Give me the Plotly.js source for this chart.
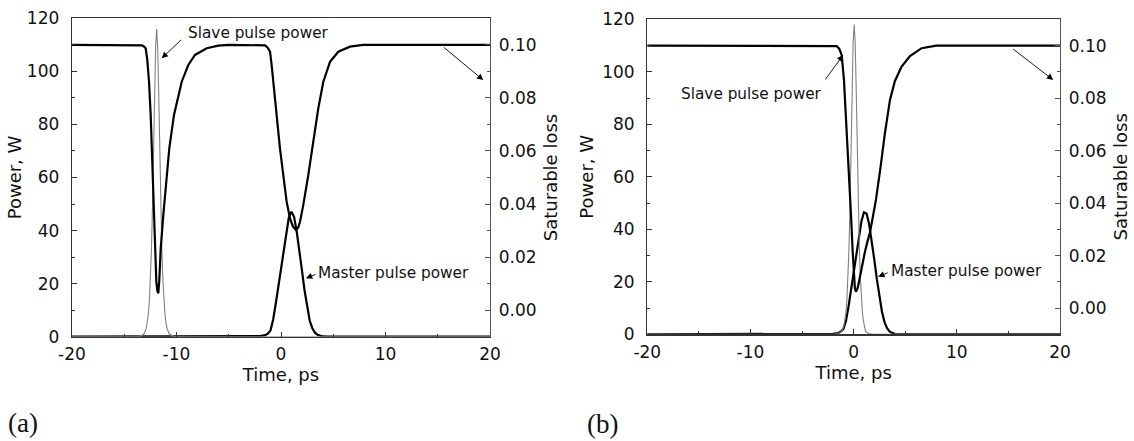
<!DOCTYPE html>
<html>
<head>
<meta charset="utf-8">
<script src="https://cdn.plot.ly/plotly-3.0.1.min.js"></script>
<style>html,body{margin:0;padding:0;background:#fff;}#chart{width:1134px;height:441px;}</style>
</head>
<body>
<div id="chart"></div>
<script>
// ---------- Data ----------
// Panel (a)
const tLossA = [-20, -13.6, -13.33, -13.17, -12.95, -12.8, -12.63, -12.47, -12.37, -12.28, -12.18, -12.09, -11.93, -11.83, -11.74, -11.65, -11.51, -11.26, -11.0, -10.69, -10.24, -9.5, -8.87, -8.23, -7.11, -6.0, -5.0, -1.8, -1.53, -1.3, -1.05, -0.9, -0.74, -0.41, -0.1, 0.22, 0.54, 0.86, 1.15, 1.44, 1.65, 1.82, 2.13, 2.61, 3.09, 3.57, 4.05, 4.69, 5.48, 6.6, 7.85, 20];
const lossA = [0.100, 0.100, 0.0998, 0.0996, 0.0987, 0.0945, 0.0861, 0.0736, 0.061, 0.0484, 0.0359, 0.0233, 0.0107, 0.0072, 0.0064, 0.011, 0.0233, 0.0359, 0.0484, 0.061, 0.0736, 0.0861, 0.0924, 0.0962, 0.0987, 0.0997, 0.100, 0.100, 0.0998, 0.099, 0.0974, 0.0925, 0.0861, 0.0736, 0.061, 0.0509, 0.0409, 0.0346, 0.0315, 0.0302, 0.0312, 0.0333, 0.0396, 0.0509, 0.0635, 0.0761, 0.0861, 0.0936, 0.0974, 0.0993, 0.100, 0.100];
const tSlaveA = [-20, -13.8, -13.4, -13.1, -12.9, -12.8, -12.7, -12.6, -12.5, -12.4, -12.3, -12.2, -12.1, -12.0, -11.9, -11.8, -11.7, -11.6, -11.5, -11.4, -11.3, -11.2, -11.1, -11.0, -10.9, -10.7, -10.4, -10.0, 20];
const slaveA = [0, 0, 0.3, 1.1, 3.1, 5.0, 8.2, 13.2, 21, 32.5, 48.7, 69.2, 91.2, 109, 116, 109, 91.2, 69.2, 48.7, 32.5, 21, 13.2, 8.2, 5.0, 3.1, 1.1, 0.3, 0, 0];
const tMasterA = [-20, -3, -2.5, -2.0, -1.5, -1.25, -1.0, -0.75, -0.5, -0.25, 0, 0.25, 0.5, 0.75, 1.0, 1.25, 1.5, 1.75, 2.0, 2.25, 2.5, 2.75, 3.0, 3.25, 3.5, 3.75, 4.0, 4.5, 20];
const masterA = [0, 0, 0.05, 0.2, 0.6, 1.2, 2.4, 6.5, 12.5, 19.3, 25.8, 32.5, 39, 45, 47.1, 45.2, 39.7, 33, 25.2, 17.5, 10.9, 6, 3.2, 1.5, 0.7, 0.3, 0.1, 0, 0];

// Panel (b)
const tLossB = [-20, -2.0, -1.65, -1.4, -1.16, -0.94, -0.78, -0.6, -0.4, -0.25, -0.1, 0.02, 0.12, 0.22, 0.38, 0.54, 0.8, 1.1, 1.35, 1.58, 1.85, 2.16, 2.6, 3.03, 3.52, 4.0, 4.65, 5.46, 6.59, 8.0, 20];
const lossB = [0.100, 0.100, 0.0998, 0.0988, 0.0964, 0.087, 0.076, 0.062, 0.048, 0.035, 0.022, 0.012, 0.0075, 0.0062, 0.0075, 0.0105, 0.016, 0.0215, 0.0255, 0.0288, 0.0345, 0.0412, 0.0535, 0.0666, 0.0793, 0.0865, 0.092, 0.096, 0.099, 0.100, 0.100];
const tSlaveB = [-20, -1.9, -1.45, -1.15, -0.95, -0.85, -0.75, -0.65, -0.55, -0.45, -0.35, -0.25, -0.15, -0.05, 0.05, 0.15, 0.25, 0.35, 0.45, 0.55, 0.65, 0.75, 0.85, 0.95, 1.15, 1.45, 1.9, 20];
const slaveB = [0, 0, 0.3, 1.1, 3.1, 5.1, 8.3, 13.4, 21.3, 33.1, 49.6, 70.4, 92.8, 110.9, 118, 110.9, 92.8, 70.4, 49.6, 33.1, 21.3, 13.4, 8.3, 5.1, 1.1, 0.3, 0, 0];
const tMasterB = [-20, -3, -2.5, -2.0, -1.5, -1.25, -1.0, -0.75, -0.5, -0.25, 0, 0.25, 0.5, 0.75, 1.0, 1.25, 1.5, 1.75, 2.0, 2.25, 2.5, 2.75, 3.0, 3.25, 3.5, 3.75, 4.0, 4.5, 20];
const masterB = [0, 0, 0.05, 0.2, 0.5, 1.0, 2.0, 5.0, 10.5, 17, 23.5, 30, 36.5, 43, 46.5, 46, 42, 36, 28.5, 21, 14, 8.5, 4.5, 2.2, 1.0, 0.4, 0.1, 0, 0];

// Tick labels and texts
const xTickVals = [-20, -10, 0, 10, 20];
const xTickText = ['-20', '-10', '0', '10', '20'];
const powerTickVals = [0, 20, 40, 60, 80, 100, 120];
const lossTickVals = [0.00, 0.02, 0.04, 0.06, 0.08, 0.10];
const xTitle = 'Time, ps';
const powerTitle = 'Power, W';
const lossTitle = 'Saturable loss';
const slaveLabel = 'Slave pulse power';
const masterLabel = 'Master pulse power';
const panelLabels = ['(a)', '(b)'];

// ---------- Styling ----------
const FONT = 'DejaVu Sans, Verdana, sans-serif';
const INK = '#111';
const AXC = '#333';

function xAxis(domain, anchor) {
  return {
    domain: domain, anchor: anchor, range: [-20, 20],
    tickmode: 'array', tickvals: xTickVals, ticktext: xTickText,
    ticks: 'inside', ticklen: 5, tickwidth: 1, tickcolor: AXC,
    minor: {tickmode: 'array', tickvals: [-15, -5, 5, 15], ticks: 'inside', ticklen: 3, tickwidth: 1, tickcolor: AXC},
    showline: true, linecolor: AXC, linewidth: 1.3, mirror: true,
    showgrid: false, zeroline: false,
    tickfont: {family: FONT, size: 17, color: INK},
    ticklabelstandoff: 2,
    title: {text: xTitle, font: {family: FONT, size: 18, color: INK}, standoff: 5}
  };
}
function powerAxis(domain, anchor, titleStandoff) {
  return {
    domain: domain, anchor: anchor, range: [0, 120], side: 'left',
    tickmode: 'array', tickvals: powerTickVals,
    ticks: 'inside', ticklen: 5, tickwidth: 1, tickcolor: AXC,
    minor: {tickmode: 'array', tickvals: [10, 30, 50, 70, 90, 110], ticks: 'inside', ticklen: 3, tickwidth: 1, tickcolor: AXC},
    showline: true, linecolor: AXC, linewidth: 1.3,
    showgrid: false, zeroline: false,
    tickfont: {family: FONT, size: 17, color: INK},
    ticklabelstandoff: 8,
    title: {text: powerTitle, font: {family: FONT, size: 18, color: INK}, standoff: titleStandoff}
  };
}
function lossAxis(overlay, anchor) {
  return {
    overlaying: overlay, anchor: anchor, side: 'right', range: [-0.01, 0.11],
    tickmode: 'array', tickvals: lossTickVals, tickformat: '.2f',
    ticks: 'inside', ticklen: 5, tickwidth: 1, tickcolor: '#555',
    minor: {tickmode: 'array', tickvals: [0.01, 0.03, 0.05, 0.07, 0.09], ticks: 'inside', ticklen: 3, tickwidth: 1, tickcolor: '#555'},
    showline: true, linecolor: '#555', linewidth: 1.3,
    showgrid: false, zeroline: false,
    tickfont: {family: FONT, size: 17, color: INK},
    ticklabelstandoff: 4,
    title: {text: lossTitle, font: {family: FONT, size: 18, color: INK}, standoff: 8}
  };
}

const thick = {color: '#000', width: 2.2};
const thin = {color: '#808080', width: 1.1};

const traces = [
  {x: tLossA, y: lossA, xaxis: 'x', yaxis: 'y2', mode: 'lines', line: thick, name: 'Saturable loss (a)'},
  {x: tMasterA, y: masterA, xaxis: 'x', yaxis: 'y', mode: 'lines', line: thick, name: masterLabel + ' (a)'},
  {x: tSlaveA, y: slaveA, xaxis: 'x', yaxis: 'y', mode: 'lines', line: thin, name: slaveLabel + ' (a)'},
  {x: tLossB, y: lossB, xaxis: 'x2', yaxis: 'y4', mode: 'lines', line: thick, name: 'Saturable loss (b)'},
  {x: tMasterB, y: masterB, xaxis: 'x2', yaxis: 'y3', mode: 'lines', line: thick, name: masterLabel + ' (b)'},
  {x: tSlaveB, y: slaveB, xaxis: 'x2', yaxis: 'y3', mode: 'lines', line: thin, name: slaveLabel + ' (b)'}
];

const annFont = {family: FONT, size: 15.3, color: INK};
function arrow(xref, yref, x, y, ax, ay) {
  return {xref: xref, yref: yref, x: x, y: y, ax: ax, ay: ay, text: '', showarrow: true,
          arrowhead: 2, arrowsize: 1.4, arrowwidth: 0.9, arrowcolor: '#000', standoff: 0, startstandoff: 0};
}
function label(xref, yref, x, y, text) {
  return {xref: xref, yref: yref, x: x, y: y, text: text, showarrow: false,
          xanchor: 'left', yanchor: 'middle', font: annFont, borderpad: 0};
}

const annotations = [
  // panel (a)
  arrow('x', 'y', -11.42, 104.9, 21, -20),
  label('x', 'y', -8.95, 114.3, slaveLabel),
  arrow('x', 'y', 19.36, 96.7, -41, -34),
  arrow('x', 'y', 2.39, 22.0, 11, -4.5),
  label('x', 'y', 3.45, 24.0, masterLabel),
  // panel (b)
  arrow('x2', 'y3', -1.01, 106.4, -19, 26),
  label('x2', 'y3', -16.85, 91.5, slaveLabel),
  arrow('x2', 'y3', 19.34, 96.9, -41.5, -32),
  arrow('x2', 'y3', 2.38, 21.9, 11, -4.7),
  label('x2', 'y3', 3.57, 24.1, masterLabel),
  // panel captions
  {xref: 'paper', yref: 'paper', x: 6 / 1134, y: (441 - 423) / 441, text: panelLabels[0], showarrow: false,
   xanchor: 'left', yanchor: 'middle', font: {family: 'Liberation Serif, Times New Roman, serif', size: 27, color: INK}},
  {xref: 'paper', yref: 'paper', x: 585 / 1134, y: (441 - 424) / 441, text: panelLabels[1], showarrow: false,
   xanchor: 'left', yanchor: 'middle', font: {family: 'Liberation Serif, Times New Roman, serif', size: 27, color: INK}}
];

const layout = {
  width: 1134, height: 441,
  margin: {l: 0, r: 0, t: 0, b: 0},
  paper_bgcolor: '#fff', plot_bgcolor: '#fff',
  showlegend: false,
  font: {family: FONT, color: INK},
  xaxis: xAxis([72 / 1134, 490 / 1134], 'y'),
  yaxis: powerAxis([(441 - 336.7) / 441, (441 - 18.3) / 441], 'x', 0),
  yaxis2: lossAxis('y', 'x'),
  xaxis2: xAxis([647.3 / 1134, 1060 / 1134], 'y3'),
  yaxis3: powerAxis([(441 - 334.3) / 441, (441 - 19.3) / 441], 'x2', 3),
  yaxis4: lossAxis('y3', 'x2'),
  annotations: annotations
};

Plotly.newPlot('chart', traces, layout, {displayModeBar: false, staticPlot: true});
</script>
</body>
</html>
